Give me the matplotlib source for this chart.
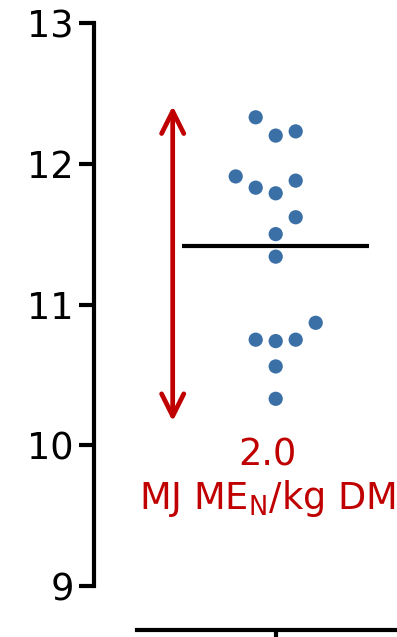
#!/usr/bin/env python3
"""Scatter dot plot with mean line and range arrow."""

import numpy as np
import matplotlib
matplotlib.use("Agg")
import matplotlib.pyplot as plt
from matplotlib.patches import FancyArrowPatch

# values (order matters for the dot layout)
values = [10.33, 10.56, 10.74, 10.75, 10.75, 10.87, 11.34, 11.50, 11.62,
          11.79, 11.88, 11.83, 11.91, 12.20, 12.23, 12.33]
y_ticks = [9, 10, 11, 12, 13]
arrow_top = 12.41
arrow_bottom = 10.17
range_label = "2.0"
unit_label = r"MJ ME$_{\mathregular{N}}$/kg DM"

DOT = "#3a70a6"
RED = "#c00000"


def swarm_slots(vals, gap):
    """Place dots on a grid of columns so none of them overlap."""
    placed = []
    slots = []
    for v in vals:
        best = 0
        for k in range(10):
            cands = [0] if k == 0 else [k, -k]
            free = []
            for s in cands:
                clear = min((np.hypot(s - ps, (v - pv) / gap) for ps, pv in placed),
                            default=np.inf)
                if clear >= 1:
                    free.append((round(clear, 6), s))
            if free:
                # widest clearance wins, ties go right
                free.sort(key=lambda t: (-t[0], -t[1]))
                best = free[0][1]
                break
        placed.append((best, v))
        slots.append(best)
    return slots


def main() -> None:
    plt.rcParams["font.family"] = ["DejaVu Sans"]
    plt.rcParams["mathtext.default"] = "regular"

    fig = plt.figure(figsize=(3.97, 6.37), dpi=100)
    W, H = 397, 637
    ax = fig.add_axes([94 / W, (H - 586) / H, (W - 94) / W, (586 - 23) / H])

    unit = 187.0  # px per x data unit
    xmin, xmax = (94 - 275.7) / unit, (W - 275.7) / unit
    ax.set_xlim(xmin, xmax)
    ax.set_ylim(9, 13)

    ypx = (586 - 23) / 4.0
    slots = swarm_slots(values, 20 / ypx)
    xs = np.array(slots) * (20 / unit)
    ax.scatter(xs, values, s=105, color=DOT, edgecolors="none", zorder=3)

    mean = np.mean(values)
    ax.hlines(mean, -0.5, 0.5, color="black", lw=3, zorder=2)

    ax_x = (172.7 - 275.7) / unit
    arrow = FancyArrowPatch((ax_x, arrow_bottom), (ax_x, arrow_top),
                            arrowstyle="<->,head_length=1.6,head_width=0.8",
                            mutation_scale=10, lw=3.4, color=RED,
                            shrinkA=0, shrinkB=0, zorder=3)
    ax.add_patch(arrow)

    tx = (267 - 275.7) / unit
    ax.text(tx, 13 - (465 - 23) / ypx, range_label, color=RED, fontsize=26.5,
            ha="center", va="baseline")
    ax.text(tx, 13 - (509 - 23) / ypx, unit_label, color=RED, fontsize=26.5,
            ha="center", va="baseline")

    for side in ("top", "right"):
        ax.spines[side].set_visible(False)
    ax.spines["left"].set_linewidth(3)
    ax.spines["bottom"].set_linewidth(3)
    ax.spines["bottom"].set_position(("outward", 32))
    ax.spines["bottom"].set_bounds((137 - 275.7) / unit, xmax)

    ax.set_yticks(y_ticks)
    ax.set_yticklabels([str(t) for t in y_ticks])
    ax.set_xticks([0])
    ax.set_xticklabels([""])
    ax.tick_params(axis="both", direction="out", length=10.5, width=3,
                   labelsize=26.5, pad=4)

    fig.savefig("out.png", dpi=100)


if __name__ == "__main__":
    main()
